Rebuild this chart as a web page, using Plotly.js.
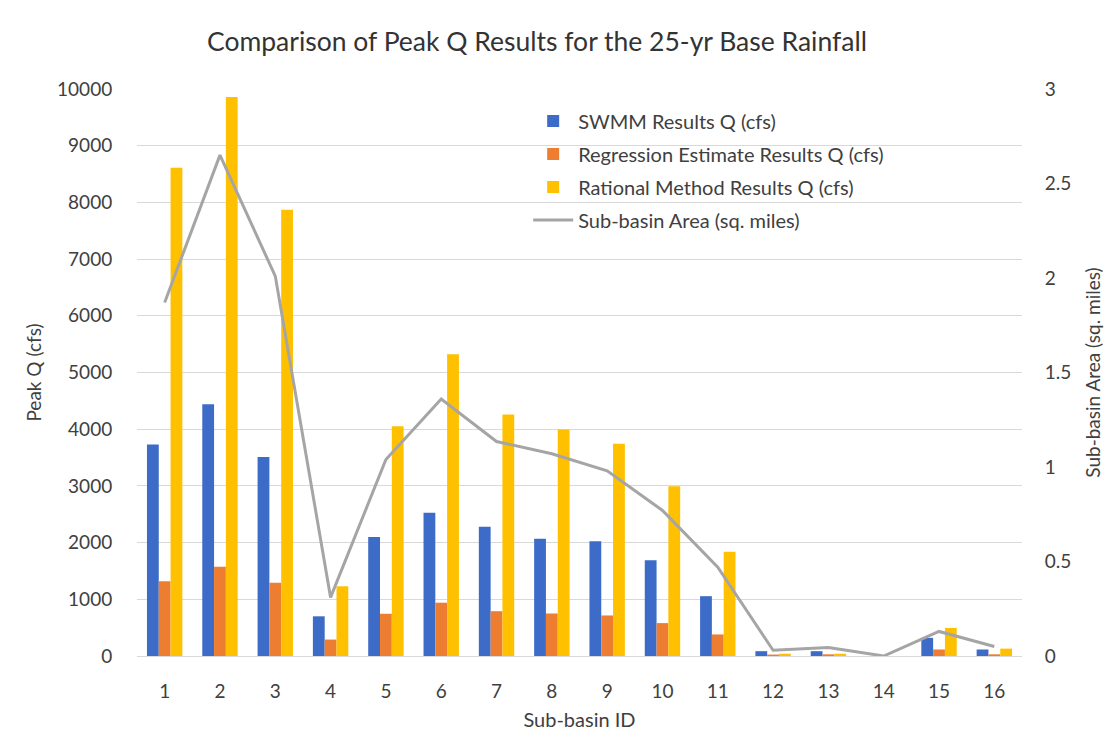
<!DOCTYPE html>
<html>
<head>
<meta charset="utf-8">
<script src="https://cdn.plot.ly/plotly-3.0.1.min.js"></script>
<style>
  html, body { margin: 0; padding: 0; background: #ffffff; }
  #chart { width: 1106px; height: 753px; }
</style>
</head>
<body>
<div id="chart"></div>
<script>
// Sub-basin IDs along the x axis
const subBasins = ['1', '2', '3', '4', '5', '6', '7', '8', '9', '10', '11', '12', '13', '14', '15', '16'];

// Peak flow results (cfs)
const swmmQ       = [3730, 4440, 3510, 700, 2100, 2525, 2280, 2070, 2025, 1690, 1055, 85, 85, 0, 320, 115];
const regressionQ = [1320, 1575, 1290, 290, 745, 940, 790, 750, 715, 580, 380, 25, 30, 0, 115, 30];
const rationalQ   = [8610, 9860, 7870, 1230, 4050, 5320, 4260, 3995, 3745, 2995, 1840, 40, 40, 0, 495, 130];

// Drainage area of each sub-basin (sq. miles)
const areaSqMi    = [1.87, 2.65, 2.01, 0.31, 1.04, 1.36, 1.135, 1.07, 0.98, 0.77, 0.47, 0.03, 0.045, 0.0, 0.13, 0.05];

const fontFamily = 'Lato, "Open Sans", sans-serif';
const textColor = '#404040';

const traces = [
  {
    type: 'bar', name: 'SWMM Results Q (cfs)', legendgroup: 'a',
    x: subBasins, y: swmmQ,
    marker: { color: '#3D6CC8' }
  },
  {
    type: 'bar', name: 'Regression Estimate Results Q (cfs)', legendgroup: 'b',
    x: subBasins, y: regressionQ,
    marker: { color: '#ED7D31' }
  },
  {
    type: 'bar', name: 'Rational Method Results Q (cfs)', legendgroup: 'c',
    x: subBasins, y: rationalQ,
    marker: { color: '#FFC000' }
  },
  {
    type: 'scatter', mode: 'lines', name: 'Sub-basin Area (sq. miles)', legendgroup: 'd',
    x: subBasins, y: areaSqMi, yaxis: 'y2',
    line: { color: '#A5A5A5', width: 3 }
  }
];

const layout = {
  width: 1106, height: 753,
  paper_bgcolor: '#ffffff', plot_bgcolor: '#ffffff',
  font: { family: fontFamily, color: textColor, size: 19 },
  margin: { l: 137, r: 84, t: 89, b: 97 },
  title: {
    text: 'Comparison of Peak Q Results for the 25-yr Base Rainfall',
    font: { family: fontFamily, size: 26.5, color: '#333333' },
    x: 0.4855, xanchor: 'center', y: 0.945, yanchor: 'middle'
  },
  barmode: 'group',
  bargap: 0.36,
  bargroupgap: 0,
  xaxis: {
    type: 'category',
    showgrid: false, showline: true, linecolor: '#d9d9d9', linewidth: 1,
    ticks: 'outside', ticklen: 18, tickcolor: 'rgba(0,0,0,0)',
    tickfont: { size: 19, color: textColor },
    title: { text: 'Sub-basin ID', font: { size: 20, color: textColor }, standoff: 12 }
  },
  yaxis: {
    range: [0, 10000], dtick: 1000, tick0: 0, tickformat: 'd',
    showgrid: true, gridcolor: '#d9d9d9', gridwidth: 1,
    zeroline: false, showline: false,
    ticks: 'outside', ticklen: 20, tickcolor: 'rgba(0,0,0,0)',
    tickfont: { size: 19, color: textColor },
    title: { text: 'Peak Q (cfs)', font: { size: 19, color: textColor }, standoff: 10 }
  },
  yaxis2: {
    overlaying: 'y', side: 'right',
    range: [0, 3], dtick: 0.5, tick0: 0,
    showgrid: false, zeroline: false, showline: false,
    ticks: 'outside', ticklen: 18, tickcolor: 'rgba(0,0,0,0)',
    tickfont: { size: 19, color: textColor },
    title: { text: 'Sub-basin Area (sq. miles)', font: { size: 19, color: textColor }, standoff: 16 }
  },
  legend: {
    x: 0.442, y: 0.978, xanchor: 'left', yanchor: 'top',
    bgcolor: 'rgba(255,255,255,0)',
    font: { size: 20, color: textColor },
    traceorder: 'grouped', tracegroupgap: 4, itemwidth: 40
  },
  showlegend: true
};

Plotly.newPlot('chart', traces, layout, { displayModeBar: false, staticPlot: true });
</script>
</body>
</html>
